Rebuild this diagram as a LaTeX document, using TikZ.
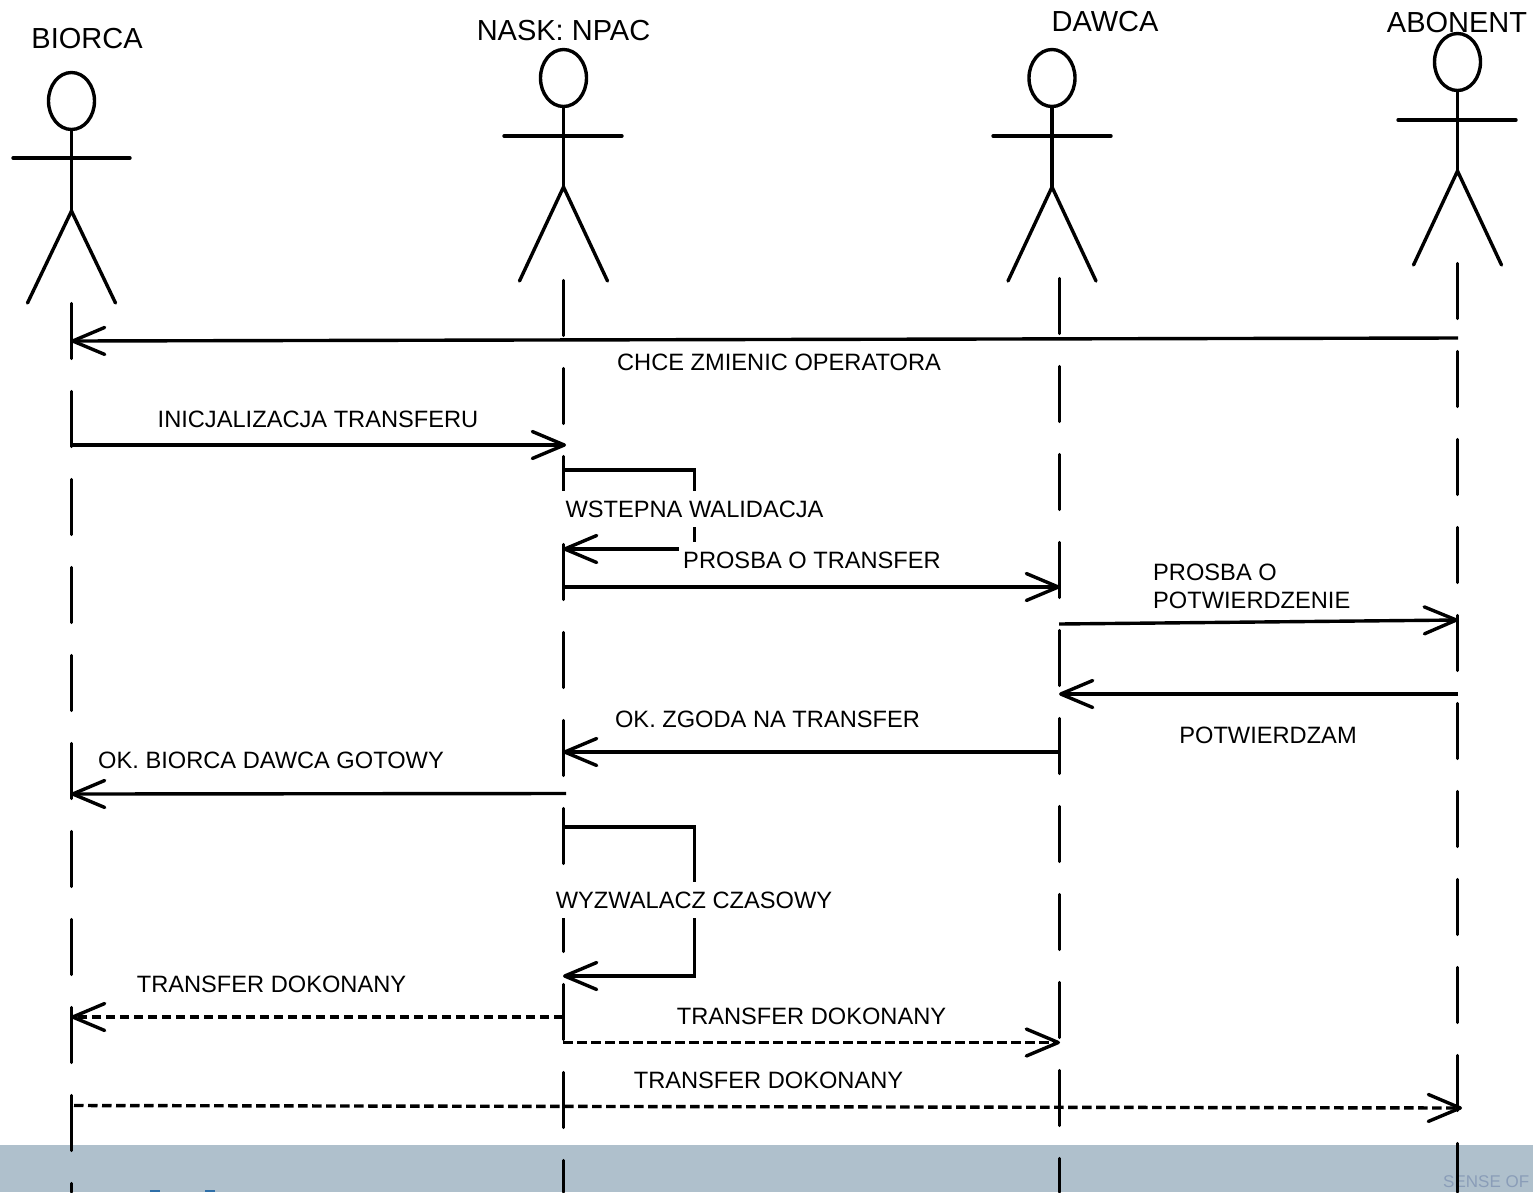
\documentclass[tikz,border=0pt]{standalone}
\usepackage{fontspec}
\setmainfont{Liberation Sans}
\usetikzlibrary{arrows.meta,shapes.geometric}
\definecolor{band}{HTML}{AFC0CC}
\definecolor{logo}{HTML}{8A9DB8}
\definecolor{bluebit}{HTML}{2F6FA8}
\tikzset{
  ink/.style={line width=3.4pt,black},
  stick/.style={ink,line cap=round},
  headshape/.style={ellipse,draw,line width=3.4pt,minimum width=46pt,minimum height=57pt,inner sep=0pt},
  lifeline/.style={ink,line cap=round,dash pattern=on 55pt off 33pt},
  barb/.style={-{Straight Barb[round,length=32pt,width=27pt,line width=3.4pt]}},
  msg/.style={ink,barb},
  reply/.style={ink,barb,dash pattern=on 9.5pt off 4.5pt},
  lab/.style={inner sep=0pt,font=\fontsize{23.65}{28}\selectfont},
  mask/.style={lab,fill=white,inner xsep=4.5pt,minimum height=36pt},
  actorlab/.style={inner sep=0pt,font=\fontsize{29}{34}\selectfont}
}
\newcommand{\actor}[8]{%
  % name, headx, heady, hip y, arm y, lefthand, righthand, foot y
  \node[headshape] (h#1) at (#2,#3) {};
  \coordinate (hip#1) at (#2,#4);
  \coordinate (al#1) at (#6,#5);
  \coordinate (ar#1) at (#7,#5);
  \coordinate (fl#1) at (#2-44,#8);
  \coordinate (fr#1) at (#2+44,#8);
  \draw[stick] (h#1.south) -- (hip#1);
  \draw[stick] (al#1) -- (ar#1);
  \draw[stick] (fl#1) -- (hip#1) -- (fr#1);
}
\begin{document}
\begin{tikzpicture}[x=1pt,y=-1pt]
\useasboundingbox (0,0) rectangle (1533,1192);
\fill[band] (0,1145) rectangle (1533,1192);
\fill[bluebit] (150,1190) rectangle (160,1192);
\fill[bluebit] (205,1190) rectangle (215,1192);
\node[anchor=west,inner sep=0pt,text=logo,font=\fontsize{17}{19}\selectfont] (logotext) at (1443,1182) {SENSE OF};

% actors
\actor{A}{71.5}{101}{211}{158}{13}{130}{303}
\actor{B}{563.5}{78}{187}{136}{504}{622}{281}
\actor{C}{1052}{78}{187}{136}{993}{1111}{281}
\actor{D}{1457.5}{62}{171}{120}{1398}{1516}{265}

% lifelines
\coordinate (lAs) at (71.3,303.5);   \coordinate (lAe) at (71.3,1192);
\coordinate (lBs) at (563.3,280.5);  \coordinate (lBe) at (563.3,1192);
\coordinate (lCs) at (1059.3,278.5); \coordinate (lCe) at (1059.3,1192);
\coordinate (lDs) at (1457.3,263.5); \coordinate (lDe) at (1457.3,1192);
\draw[lifeline] (lAs) -- (lAe);
\draw[lifeline] (lBs) -- (lBe);
\draw[lifeline] (lCs) -- (lCe);
\draw[lifeline] (lDs) -- (lDe);

% message end points
\coordinate (m1a) at (1458,338);   \coordinate (m1b) at (71,341);
\coordinate (m2a) at (71,445);     \coordinate (m2b) at (566,445);
\coordinate (m3a) at (563,470);    \coordinate (m3c) at (694.5,470);
\coordinate (m3d) at (694.5,549);  \coordinate (m3b) at (563,549);
\coordinate (m4a) at (563,587);    \coordinate (m4b) at (1060,587);
\coordinate (m5a) at (1059,624);   \coordinate (m5b) at (1458,620);
\coordinate (m6a) at (1458,694);   \coordinate (m6b) at (1059,694);
\coordinate (m7a) at (1059,752);   \coordinate (m7b) at (563,752);
\coordinate (m8a) at (566,793.5);  \coordinate (m8b) at (71,794);
\coordinate (m9a) at (563,827);    \coordinate (m9c) at (694.5,827);
\coordinate (m9d) at (694.5,976);  \coordinate (m9b) at (563,976);
\coordinate (m10a) at (563,1017);  \coordinate (m10b) at (71,1017);
\coordinate (m11a) at (563,1042.5);\coordinate (m11b) at (1060,1042.5);
\coordinate (m12a) at (74,1105.5); \coordinate (m12b) at (1462,1108);

% messages
\draw[msg] (m1a) -- (m1b);
\draw[msg] (m2a) -- (m2b);
\draw[msg] (m3a) -- (m3c) -- (m3d) -- (m3b);
\draw[msg] (m4a) -- (m4b);
\draw[msg] (m5a) -- (m5b);
\draw[msg] (m6a) -- (m6b);
\draw[msg] (m7a) -- (m7b);
\draw[msg] (m8a) -- (m8b);
\draw[msg] (m9a) -- (m9c) -- (m9d) -- (m9b);
\draw[reply] (m10a) -- (m10b);
\draw[reply] (m11a) -- (m11b);
\draw[reply] (m12a) -- (m12b);

% labels
\node[actorlab] (tA) at (87,39) {BIORCA};
\node[actorlab] (tB) at (563.5,31) {NASK: NPAC};
\node[actorlab] (tC) at (1105,22) {DAWCA};
\node[actorlab] (tD) at (1457,23) {ABONENT};
\node[lab] (t1) at (779,362) {CHCE ZMIENIC OPERATORA};
\node[lab] (t2) at (318,419) {INICJALIZACJA TRANSFERU};
\node[mask,inner xsep=6pt] (t3) at (694.5,509) {WSTEPNA WALIDACJA};
\node[mask] (t4) at (812,560) {PROSBA O TRANSFER};
\node[lab,anchor=west] (t5a) at (1153,572) {PROSBA O};
\node[lab,anchor=west] (t5b) at (1153,600) {POTWIERDZENIE};
\node[lab] (t6) at (1268,735) {POTWIERDZAM};
\node[lab] (t7) at (767.5,719) {OK. ZGODA NA TRANSFER};
\node[lab] (t8) at (271,760) {OK. BIORCA DAWCA GOTOWY};
\node[mask] (t9) at (694,900) {WYZWALACZ CZASOWY};
\node[lab] (t10) at (271.5,984) {TRANSFER DOKONANY};
\node[lab] (t11) at (811.5,1016) {TRANSFER DOKONANY};
\node[lab] (t12) at (768.5,1080) {TRANSFER DOKONANY};
\end{tikzpicture}
\end{document}
